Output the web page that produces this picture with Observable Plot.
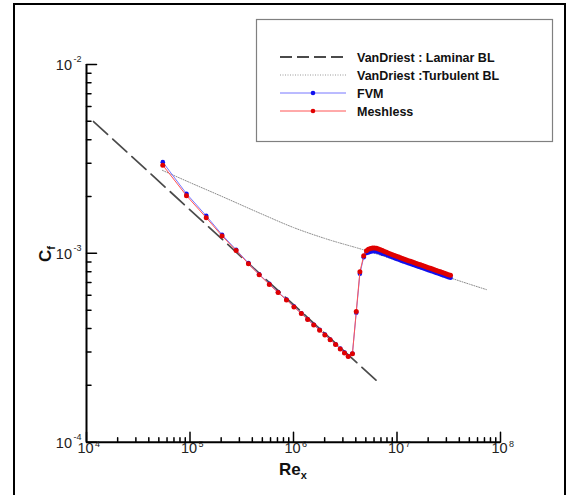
<!DOCTYPE html>
<html><head><meta charset="utf-8">
<script src="https://cdn.jsdelivr.net/npm/d3@7"></script>
<script src="https://cdn.jsdelivr.net/npm/@observablehq/plot@0.6"></script>
<style>
html,body{margin:0;padding:0;overflow:hidden;background:#fff;width:568px;height:495px;}
#wrap{position:relative;width:568px;height:495px;}
#frame{position:absolute;left:13px;top:3px;width:553px;height:530px;border:2px solid #000;box-sizing:border-box;pointer-events:none;}
svg{font-family:"Liberation Sans",Arial,sans-serif;}
</style></head><body>
<div id="wrap"><div id="frame"></div></div>
<script>
// ---- data ----
const lamRe = [1.17e4, 1e5, 1e6, 6.5e6];
const lamCf = [4.99e-3, 1.70e-3, 5.35e-4, 2.09e-4];

const turbRe = [5.42e4, 1e5, 2e5, 5e5, 1e6, 2e6, 5e6, 1e7, 2e7, 5e7, 7.3e7];
const turbCf = [2.75e-3, 2.37e-3, 2.01e-3, 1.61e-3, 1.37e-3, 1.20e-3, 1.035e-3, 9.16e-4, 8.11e-4, 6.87e-4, 6.43e-4];

const meshRe = [5.46e4, 9.25e4, 1.435e5, 2.04e5, 2.79e5, 3.67e5, 4.66e5, 5.84e5, 7.10e5, 8.55e5,
  1.01e6, 1.19e6, 1.37e6, 1.57e6, 1.79e6, 2.01e6, 2.26e6, 2.55e6, 2.83e6, 3.11e6, 3.38e6,
  3.71e6, 4.04e6, 4.38e6, 4.77e6,
  5.07e6, 5.30e6, 5.545e6, 5.80e6, 6.06e6, 6.34e6, 6.625e6, 6.93e6, 7.24e6, 7.57e6, 7.92e6, 8.275e6, 8.65e6, 9.045e6, 9.46e6, 9.89e6,
  1.034e7, 1.081e7, 1.130e7, 1.181e7, 1.235e7, 1.2915e7, 1.350e7, 1.412e7, 1.476e7, 1.543e7, 1.613e7, 1.687e7, 1.764e7, 1.844e7,
  1.928e7, 2.016e7, 2.107e7, 2.203e7, 2.303e7, 2.408e7, 2.518e7, 2.633e7, 2.752e7, 2.877e7, 3.008e7, 3.145e7, 3.288e7];
const meshCf = [2.93e-3, 2.02e-3, 1.545e-3, 1.236e-3, 1.035e-3, 8.81e-4, 7.70e-4, 6.85e-4, 6.20e-4, 5.67e-4,
  5.20e-4, 4.80e-4, 4.46e-4, 4.17e-4, 3.92e-4, 3.70e-4, 3.49e-4, 3.29e-4, 3.12e-4, 2.97e-4, 2.84e-4,
  2.94e-4, 4.92e-4, 7.98e-4, 9.71e-4,
  1.031e-3, 1.050e-3, 1.060e-3, 1.067e-3, 1.067e-3, 1.063e-3, 1.056e-3, 1.046e-3, 1.035e-3, 1.023e-3, 1.012e-3, 1.002e-3, 9.927e-4, 9.831e-4, 9.735e-4, 9.641e-4,
  9.559e-4, 9.466e-4, 9.386e-4, 9.306e-4, 9.227e-4, 9.148e-4, 9.070e-4, 8.993e-4, 8.917e-4, 8.841e-4, 8.766e-4, 8.691e-4, 8.617e-4, 8.544e-4,
  8.471e-4, 8.399e-4, 8.328e-4, 8.257e-4, 8.187e-4, 8.117e-4, 8.048e-4, 7.980e-4, 7.912e-4, 7.845e-4, 7.778e-4, 7.712e-4, 7.646e-4];

const fvmRe = meshRe;
const fvmCf = [3.04e-3, 2.07e-3, 1.58e-3, 1.255e-3, 1.045e-3, 8.88e-4, 7.75e-4, 6.89e-4, 6.23e-4, 5.70e-4,
  5.22e-4, 4.82e-4, 4.48e-4, 4.19e-4, 3.94e-4, 3.71e-4, 3.50e-4, 3.30e-4, 3.13e-4, 2.98e-4, 2.85e-4,
  2.95e-4, 4.85e-4, 7.80e-4, 9.55e-4,
  1.005e-3, 1.010e-3, 1.020e-3, 1.026e-3, 1.026e-3, 1.023e-3, 1.016e-3, 1.006e-3, 9.96e-4, 9.92e-4, 9.82e-4, 9.72e-4, 9.63e-4, 9.54e-4, 9.44e-4, 9.35e-4,
  9.27e-4, 9.18e-4, 9.10e-4, 9.03e-4, 8.95e-4, 8.87e-4, 8.80e-4, 8.72e-4, 8.65e-4, 8.58e-4, 8.50e-4, 8.43e-4, 8.36e-4, 8.29e-4,
  8.22e-4, 8.15e-4, 8.08e-4, 8.01e-4, 7.94e-4, 7.87e-4, 7.81e-4, 7.74e-4, 7.67e-4, 7.61e-4, 7.54e-4, 7.48e-4, 7.42e-4];

const xTickValues = [1e4, 1e5, 1e6, 1e7, 1e8];
const xTickExps = ["4", "5", "6", "7", "8"];
const yTickValues = [1e-4, 1e-3, 1e-2];
const yTickExps = ["-4", "-3", "-2"];
const legendLabels = ["VanDriest : Laminar BL", "VanDriest :Turbulent BL", "FVM", "Meshless"];

// ---- tables ----
const toRows = (xs, ys) => xs.map((x, i) => ({x, y: ys[i]}));
const lam = toRows(lamRe, lamCf);
const turb = toRows(turbRe, turbCf);
const mesh = toRows(meshRe, meshCf);
const fvm = toRows(fvmRe, fvmCf);
const xLab = xTickValues.map((v, i) => ({v, e: xTickExps[i]}));
const yLab = yTickValues.map((v, i) => ({v, e: yTickExps[i]}));
const xMinor = xTickValues.slice(0, -1).flatMap(d => d3.range(2, 10).map(k => k * d));
const yMinor = yTickValues.slice(0, -1).flatMap(d => d3.range(2, 10).map(k => k * d));

const FF = "Liberation Sans, Arial, sans-serif";
const tick = (data, ch, anchor, rot, len) => Plot.vector(data, {
  [ch]: d => d, frameAnchor: anchor, length: len, rotate: rot, anchor: "start", r: 0,
  stroke: "#000", strokeWidth: 1.5
});

const chart = Plot.plot({
  width: 568, height: 495,
  marginLeft: 86, marginRight: 68, marginTop: 64, marginBottom: 53.3,
  x: {type: "log", domain: [1e4, 1e8], axis: null},
  y: {type: "log", domain: [1e-4, 1e-2], axis: null},
  style: {background: "white", fontFamily: FF},
  marks: [
    Plot.line(lam, {x: "x", y: "y", stroke: "#4a4a4a", strokeWidth: 1.7, strokeDasharray: "19,7"}),
    Plot.line(turb, {x: "x", y: "y", stroke: "#8a8a8a", strokeWidth: 1, strokeDasharray: "1,1.5", curve: "monotone-x"}),
    Plot.line(fvm, {x: "x", y: "y", stroke: "#7777ff", strokeWidth: 1}),
    Plot.dot(fvm, {x: "x", y: "y", r: 2.3, fill: "#1010ee"}),
    Plot.line(mesh, {x: "x", y: "y", stroke: "#ff5555", strokeWidth: 1}),
    Plot.dot(mesh, {x: "x", y: "y", r: 2.5, fill: "#e00000"}),
    // axes
    Plot.ruleX([1e4], {stroke: "#000", strokeWidth: 2}),
    Plot.ruleY([1e-4], {stroke: "#000", strokeWidth: 2}),
    tick(xTickValues, "x", "bottom", 0, 10),
    tick(xMinor, "x", "bottom", 0, 4.5),
    tick(yTickValues, "y", "left", 90, 10),
    tick(yMinor, "y", "left", 90, 4.5),
    Plot.text(xLab, {x: "v", frameAnchor: "bottom", text: () => "10", dx: -1, dy: 10.5, fontSize: 14.5, fill: "#222", fontFamily: FF}),
    Plot.text(xLab, {x: "v", frameAnchor: "bottom", text: "e", dx: 8.5, dy: 4.5, fontSize: 9, textAnchor: "start", fill: "#222", fontFamily: FF}),
    Plot.text(yLab, {y: "v", frameAnchor: "left", text: () => "10", dx: -14.5, dy: 1, fontSize: 14.5, textAnchor: "end", fill: "#222", fontFamily: FF}),
    Plot.text(yLab, {y: "v", frameAnchor: "left", text: "e", dx: -5, dy: -5.5, fontSize: 9, textAnchor: "end", fill: "#222", fontFamily: FF})
  ]
});
document.getElementById("wrap").prepend(chart);

// ---- titles and legend ----
const svg = d3.select(chart);
const xt = svg.append("text").attr("x", 293).attr("y", 475).attr("text-anchor", "middle")
  .attr("font-weight", "bold").attr("font-size", 17).attr("fill", "#111").attr("font-family", FF);
xt.append("tspan").text("Re");
xt.append("tspan").attr("font-size", 11).attr("dy", 4).text("x");

const yt = svg.append("text").attr("transform", "translate(51,254) rotate(-90)").attr("text-anchor", "middle")
  .attr("font-weight", "bold").attr("font-size", 17).attr("fill", "#111").attr("font-family", FF);
yt.append("tspan").text("C");
yt.append("tspan").attr("font-size", 11).attr("dy", 4).text("f");

const lg = svg.append("g");
lg.append("rect").attr("x", 256.5).attr("y", 19.5).attr("width", 296).attr("height", 122)
  .attr("fill", "white").attr("stroke", "#808080").attr("stroke-width", 1.2);
const styles = [
  {stroke: "#4a4a4a", dash: "12,5", w: 1.8},
  {stroke: "#999", dash: "1,1.5", w: 1},
  {stroke: "#7777ff", w: 1, marker: "#1010ee"},
  {stroke: "#ff5555", w: 1, marker: "#e00000"}
];
legendLabels.forEach((lab, i) => {
  const y = 57 + i * 18, s = styles[i];
  const ln = lg.append("line").attr("x1", 280).attr("x2", 346).attr("y1", y).attr("y2", y)
    .attr("stroke", s.stroke).attr("stroke-width", s.w);
  if (s.dash) ln.attr("stroke-dasharray", s.dash);
  if (s.marker) lg.append("circle").attr("cx", 313).attr("cy", y).attr("r", 2.3).attr("fill", s.marker);
  lg.append("text").attr("x", 357).attr("y", y + 4.5).attr("text-anchor", "start").attr("font-weight", "bold")
    .attr("font-size", 12.5).attr("fill", "#111").attr("font-family", FF).text(lab);
});
</script>
</body></html>
